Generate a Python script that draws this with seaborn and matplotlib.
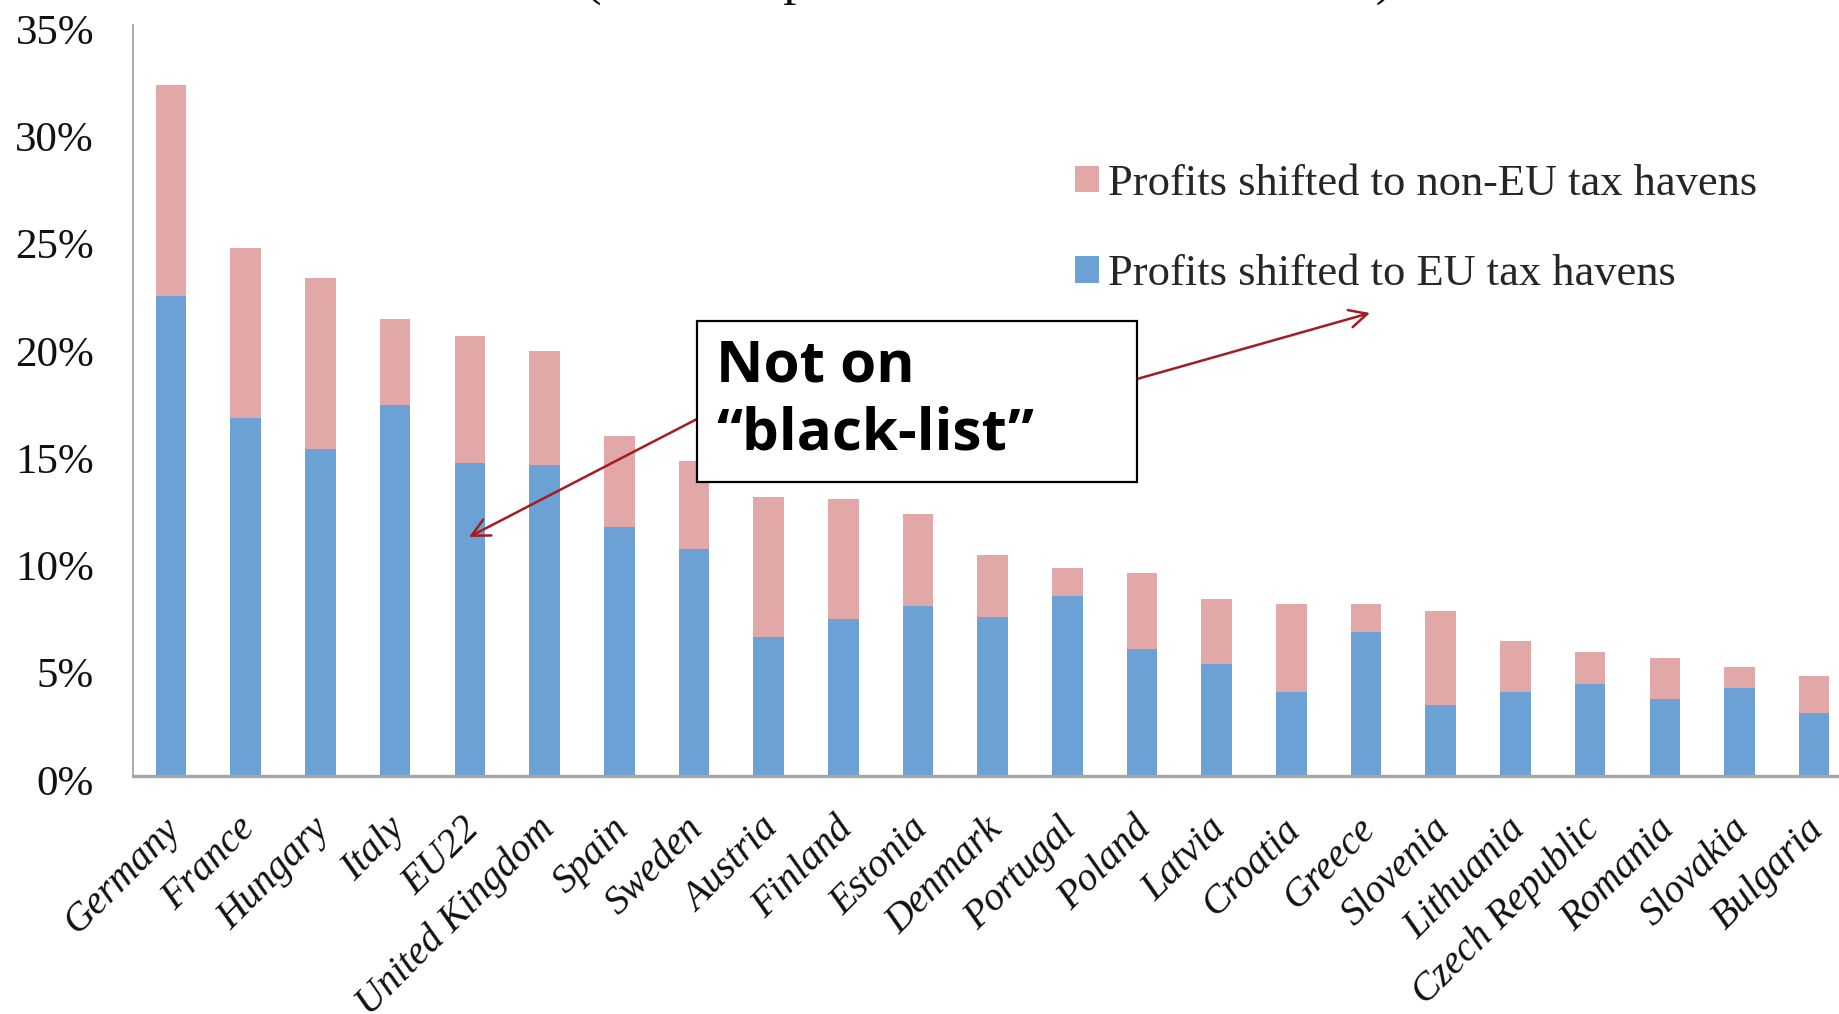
import matplotlib
matplotlib.use("Agg")
import matplotlib.pyplot as plt
import matplotlib.transforms as mtransforms
import seaborn as sns
from matplotlib.patches import Patch, Rectangle
from matplotlib.ticker import PercentFormatter, MultipleLocator

# Shares of corporate profits shifted, in percent
countries = ["Germany", "France", "Hungary", "Italy", "EU22", "United Kingdom",
             "Spain", "Sweden", "Austria", "Finland", "Estonia", "Denmark",
             "Portugal", "Poland", "Latvia", "Croatia", "Greece", "Slovenia",
             "Lithuania", "Czech Republic", "Romania", "Slovakia", "Bulgaria"]
eu_havens = [22.35, 16.7, 15.25, 17.3, 14.6, 14.5, 11.6, 10.6, 6.5, 7.3, 7.9,
             7.4, 8.4, 5.9, 5.2, 3.9, 6.7, 3.3, 3.9, 4.3, 3.6, 4.1, 2.95]
non_eu_havens = [9.85, 7.9, 7.95, 4.0, 5.9, 5.3, 4.25, 4.1, 6.5, 5.6, 4.3,
                 2.9, 1.3, 3.55, 3.05, 4.1, 1.3, 4.4, 2.4, 1.5, 1.9, 1.0, 1.7]
legend_labels = ["Profits shifted to non-EU tax havens",
                 "Profits shifted to EU tax havens"]
title_text = "(% of corporate tax revenue collected)"
callout_text = "Not on\n\u201cblack-list\u201d"

PINK = "#E2A8A7"
BLUE = "#6BA1D5"
ARROW = "#A51B20"
AXIS_GREY = "#A6A6A6"

sns.set_style("white")
plt.rcParams["font.family"] = ["Liberation Serif", "DejaVu Serif"]

W, H = 1839, 1014
fig = plt.figure(figsize=(W / 100, H / 100), dpi=100)
ax = fig.add_axes([133 / W, 238 / H, 1726 / W, 751 / H])

totals = [a + b for a, b in zip(eu_havens, non_eu_havens)]
sns.barplot(x=countries, y=totals, order=countries, color=PINK, saturation=1,
            width=0.41, linewidth=0, errorbar=None, ax=ax)
sns.barplot(x=countries, y=eu_havens, order=countries, color=BLUE, saturation=1,
            width=0.41, linewidth=0, errorbar=None, ax=ax)

ax.set_xlim(-0.51, 22.6)
ax.set_ylim(0, 35)
ax.yaxis.set_major_locator(MultipleLocator(5))
ax.yaxis.set_major_formatter(PercentFormatter(xmax=100, decimals=0))
ax.set_xlabel("")
ax.set_ylabel("")
ax.tick_params(axis="both", length=0)
ax.tick_params(axis="y", pad=28, labelsize=31, labelcolor="#111111")
ax.tick_params(axis="x", pad=22)
ax.set_xticks(range(len(countries)))
ax.set_xticklabels(countries, rotation=45, ha="right", rotation_mode="anchor",
                   fontstyle="italic", fontsize=28.5, color="#111111")
shift_x = mtransforms.ScaledTranslation(-9 / 100, -4 / 100, fig.dpi_scale_trans)
for lbl in ax.get_xticklabels():
    lbl.set_transform(lbl.get_transform() + shift_x)
shift_y = mtransforms.ScaledTranslation(0, -4 / 100, fig.dpi_scale_trans)
for lbl in ax.get_yticklabels():
    lbl.set_transform(lbl.get_transform() + shift_y)

for side in ("top", "right"):
    ax.spines[side].set_visible(False)
ax.spines["left"].set_color(AXIS_GREY)
ax.spines["left"].set_linewidth(1.3)
ax.spines["bottom"].set_color(AXIS_GREY)
ax.spines["bottom"].set_linewidth(2.4)

handles = [Patch(facecolor=PINK, edgecolor="none"),
           Patch(facecolor=BLUE, edgecolor="none")]
fig.legend(handles, legend_labels, loc="upper left",
           bbox_to_anchor=(1075 / W, 1 - 164 / H), frameon=False, fontsize=32,
           handlelength=0.53, handleheight=0.53, handletextpad=0.22,
           labelspacing=1.13, borderaxespad=0, borderpad=0)

# Second title line, raised above the top edge so only descenders remain
fig.text(989 / W, 1 + 6 / H, title_text, ha="center", va="baseline",
         fontsize=38, color="#111111")

# Callout box with arrows
box = Rectangle((697 / W, 1 - 482 / H), 440 / W, 161 / H,
                transform=fig.transFigure, facecolor="white",
                edgecolor="black", linewidth=1.6, zorder=5)
fig.add_artist(box)
fig.text(716 / W, 1 - 337 / H, callout_text, ha="left", va="top",
         fontsize=42, fontweight="bold", family=["Open Sans", "DejaVu Sans"],
         linespacing=1.25, color="black", zorder=6)

arrow_style = dict(arrowstyle="->", color=ARROW, lw=1.8, mutation_scale=32,
                   shrinkA=0, shrinkB=0)
ax.annotate("", xy=(469 / W, 1 - 537 / H), xytext=(697 / W, 1 - 419 / H),
            xycoords="figure fraction", textcoords="figure fraction",
            arrowprops=arrow_style, annotation_clip=False)
ax.annotate("", xy=(1370 / W, 1 - 313 / H), xytext=(1137 / W, 1 - 379 / H),
            xycoords="figure fraction", textcoords="figure fraction",
            arrowprops=arrow_style, annotation_clip=False)

fig.savefig("out.png", dpi=100)
